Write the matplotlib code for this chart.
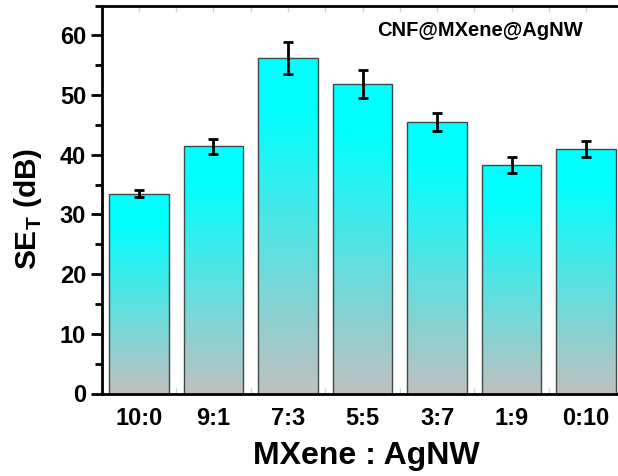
import matplotlib
matplotlib.use("Agg")
import matplotlib.pyplot as plt
import numpy as np
from matplotlib.colors import LinearSegmentedColormap
from matplotlib.patches import Rectangle
from matplotlib.ticker import MultipleLocator

plt.rcParams["font.family"] = ["Liberation Sans", "DejaVu Sans"]
plt.rcParams["mathtext.fontset"] = "custom"
plt.rcParams["mathtext.bf"] = "Liberation Sans:bold"
plt.rcParams["mathtext.rm"] = "Liberation Sans:bold"

# Data
ratios = ["10:0", "9:1", "7:3", "5:5", "3:7", "1:9", "0:10"]
se_total = [33.5, 41.4, 56.2, 51.8, 45.5, 38.3, 40.9]
se_err = [0.6, 1.3, 2.7, 2.35, 1.45, 1.3, 1.35]

# gray at bar bottom -> cyan towards the top
cmap = LinearSegmentedColormap.from_list(
    "cyan_grad", [(0.0, "#c0c0c0"), (0.85, "#00ffff"), (1.0, "#00ffff")]
)

fig = plt.figure(figsize=(6.18, 4.76), dpi=100)
ax = fig.add_axes([101.5 / 618, 82.5 / 476, 522 / 618, 388 / 476])

x = np.arange(1, len(ratios) + 1)
width = 0.8
grad = np.linspace(0, 1, 256).reshape(-1, 1)

bars = ax.bar(x, se_total, width=width, color="none", edgecolor="#3c4a4a",
              linewidth=1.0, zorder=3)
for bar in bars:
    x0 = bar.get_x()
    h = bar.get_height()
    im = ax.imshow(grad, cmap=cmap, origin="lower", aspect="auto",
                   extent=(x0, x0 + bar.get_width(), 0, h), zorder=2)
    clip = Rectangle((x0, 0), bar.get_width(), h, transform=ax.transData)
    im.set_clip_path(clip)

ax.errorbar(x, se_total, yerr=se_err, fmt="none", ecolor="black",
            elinewidth=2, capsize=3.4, capthick=2, zorder=4)

ax.set_xlim(0.5, 7.5)
ax.set_ylim(0, 65)

ax.set_xticks(x)
ax.set_xticklabels(ratios)
ax.xaxis.set_minor_locator(MultipleLocator(0.5))
ax.yaxis.set_major_locator(MultipleLocator(10))
ax.yaxis.set_minor_locator(MultipleLocator(5))

ax.tick_params(axis="y", which="major", direction="out", length=8, width=2,
               labelsize=17, pad=3)
ax.tick_params(axis="y", which="minor", direction="out", length=5, width=2)
ax.tick_params(axis="x", which="both", direction="in", length=4, width=1,
               color="#d0d0d0", top=True, labelsize=17, pad=10)
for lbl in ax.get_xticklabels() + ax.get_yticklabels():
    lbl.set_fontweight("bold")

for side in ["left", "bottom", "top", "right"]:
    ax.spines[side].set_linewidth(2)
    ax.spines[side].set_zorder(5)

ax.set_xlabel("MXene : AgNW", fontsize=23, fontweight="bold", va="center")
ax.xaxis.set_label_coords(0.507, -0.161)
ax.set_ylabel(r"SE$_\mathbf{T}$ (dB)", fontsize=21.5, fontweight="bold", va="center")
ax.yaxis.set_label_coords(-0.141, 0.4755)

fig.text(480 / 618, 1 - 30 / 476, "CNF@MXene@AgNW", fontsize=14.5,
         fontweight="bold", ha="center", va="center")

fig.savefig("out.png", dpi=100)
plt.close(fig)
